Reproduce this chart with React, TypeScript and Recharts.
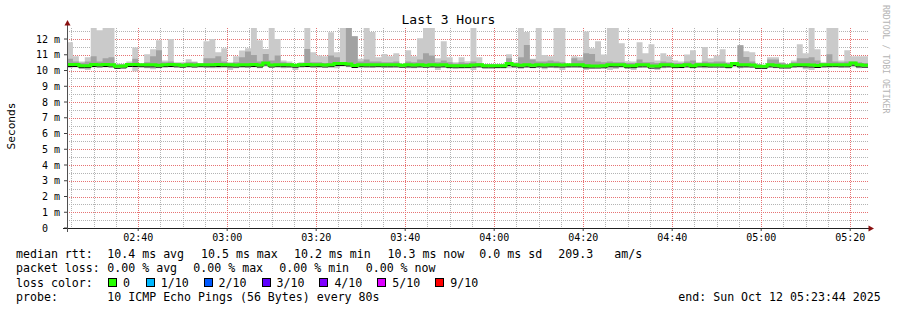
import { ComposedChart, Area, Line, XAxis, YAxis, CartesianGrid } from "recharts"

const MONO = "'DejaVu Sans Mono', monospace"

// one smokeping step = 80 s, first step at 02:24
const stepSeconds = 80
const spanMinutes = 180
const yTop = 12.7

// top of the smoke (slowest ping), ms
const smokeMax = [
  11.79, 10.91, 10.57, 10.84, 12.7, 12.56, 12.7, 12.7, 10.45, 10.42, 10.57, 11.46, 10.45, 11.03, 11.35, 11.92, 10.63, 12.0, 10.53, 10.53, 10.72, 10.57, 10.48, 11.86, 12.0, 11.16, 11.41,
  10.53, 10.91, 11.27, 11.41, 12.7, 11.92, 11.37, 12.7, 12.0, 10.63, 10.57, 10.42, 10.53, 12.7, 11.16, 10.95, 10.91, 12.43, 11.16, 12.7, 12.7, 12.17, 10.74, 12.7, 12.45, 10.84, 11.05,
  10.91, 11.1, 10.42, 11.29, 10.91, 12.05, 12.7, 12.7, 10.78, 11.86, 10.84, 10.53, 10.84, 10.59, 12.7, 10.84, 10.42, 10.42, 10.42, 10.42, 11.03, 10.53, 12.7, 12.45, 10.74, 12.7, 10.99,
  10.91, 12.7, 12.7, 10.36, 10.91, 10.84, 12.47, 11.41, 11.86, 11.01, 12.7, 12.7, 11.73, 10.59, 10.57, 11.79, 11.1, 11.67, 10.63, 11.1, 10.91, 10.63, 10.57, 11.01, 11.29, 10.53, 11.5,
  10.78, 10.95, 11.35, 10.53, 10.53, 11.6, 11.22, 11.16, 10.42, 10.32, 10.84, 10.84, 10.53, 10.42, 10.63, 11.67, 11.1, 12.7, 11.35, 10.53, 12.7, 12.7, 10.63, 11.29, 10.91, 10.91, 10.9,
]

// top of the darker middle smoke, ms
const smokeHi = [
  10.74, 10.57, 10.5, 10.57, 10.91, 10.57, 10.78, 10.84, 10.4, 10.4, 10.48, 10.74, 10.42, 10.53, 10.91, 11.29, 10.53, 10.57, 10.48, 10.46, 10.53, 10.53, 10.44, 10.78, 10.78, 10.91, 10.57,
  10.48, 10.53, 10.84, 11.2, 10.99, 10.57, 11.05, 10.63, 10.95, 10.53, 10.48, 10.42, 10.48, 11.37, 10.53, 10.53, 10.48, 10.95, 10.84, 10.53, 12.7, 12.17, 10.57, 10.7, 10.57, 10.57, 10.53,
  10.53, 10.57, 10.4, 10.57, 10.53, 10.7, 11.1, 10.95, 10.53, 10.63, 10.53, 10.44, 10.53, 10.48, 10.57, 10.48, 10.4, 10.4, 10.4, 10.4, 10.78, 10.48, 10.84, 11.62, 10.7, 10.57, 10.57,
  10.63, 10.57, 10.53, 10.36, 10.78, 10.63, 11.1, 11.05, 10.57, 10.53, 10.57, 10.53, 10.53, 10.48, 10.48, 10.7, 10.53, 10.53, 10.48, 10.57, 10.53, 10.48, 10.48, 10.57, 10.63, 10.48, 10.57,
  10.53, 10.57, 10.57, 10.48, 10.48, 11.6, 10.86, 10.57, 10.4, 10.32, 10.7, 10.7, 10.48, 10.42, 10.53, 10.78, 10.78, 10.84, 10.63, 10.48, 11.03, 10.57, 10.53, 10.57, 10.57, 10.53, 10.48,
]

// bottom of the smoke (fastest ping), ms
const smokeMin = [
  10.17, 10.21, 10.1, 10.04, 10.21, 10.28, 10.21, 10.32, 10.17, 10.21, 10.28, 9.96, 10.21, 10.15, 10.08, 10.15, 10.21, 10.21, 10.28, 10.25, 10.32, 10.25, 10.25, 10.21, 10.15, 10.15, 10.21,
  10.04, 10.15, 10.21, 10.21, 10.21, 10.15, 10.25, 10.21, 10.25, 10.15, 10.21, 10.04, 10.25, 10.21, 10.25, 10.21, 10.25, 10.21, 10.15, 10.25, 10.21, 10.21, 10.21, 10.25, 10.21, 10.25, 10.21,
  10.21, 10.25, 10.25, 10.15, 10.15, 10.21, 10.25, 10.21, 10.04, 10.21, 10.25, 10.21, 10.15, 10.21, 10.04, 10.25, 10.21, 10.25, 10.21, 10.25, 10.15, 10.21, 10.1, 10.21, 10.15, 10.21, 10.08,
  10.21, 10.15, 10.04, 10.21, 10.25, 10.21, 10.04, 10.15, 10.21, 10.25, 10.04, 10.1, 10.25, 10.15, 10.04, 10.21, 10.25, 10.21, 10.04, 10.15, 10.21, 10.25, 10.15, 10.25, 10.21, 10.25, 10.15,
  10.21, 10.25, 10.21, 10.15, 10.21, 10.15, 10.21, 10.25, 10.1, 10.1, 10.21, 10.15, 10.25, 10.21, 10.21, 10.25, 10.08, 10.04, 10.21, 10.25, 10.21, 10.25, 10.21, 10.25, 10.21, 10.15, 10.21,
]

// median rtt, ms
const median = [
  10.38, 10.38, 10.31, 10.31, 10.38, 10.36, 10.38, 10.36, 10.27, 10.29, 10.38, 10.38, 10.37, 10.36, 10.36, 10.34, 10.37, 10.38, 10.36, 10.34, 10.37, 10.35, 10.37, 10.36, 10.37, 10.38, 10.37,
  10.36, 10.35, 10.37, 10.36, 10.38, 10.35, 10.48, 10.35, 10.37, 10.37, 10.36, 10.34, 10.37, 10.38, 10.36, 10.37, 10.35, 10.37, 10.44, 10.45, 10.42, 10.32, 10.37, 10.36, 10.36, 10.37, 10.36,
  10.36, 10.36, 10.34, 10.36, 10.35, 10.36, 10.34, 10.36, 10.35, 10.36, 10.31, 10.3, 10.31, 10.31, 10.35, 10.36, 10.3, 10.3, 10.31, 10.31, 10.44, 10.36, 10.34, 10.36, 10.33, 10.36, 10.35,
  10.36, 10.36, 10.35, 10.36, 10.36, 10.36, 10.3, 10.29, 10.29, 10.3, 10.37, 10.36, 10.37, 10.3, 10.31, 10.36, 10.36, 10.28, 10.29, 10.36, 10.36, 10.31, 10.32, 10.36, 10.31, 10.36, 10.37,
  10.35, 10.35, 10.35, 10.31, 10.44, 10.36, 10.36, 10.35, 10.27, 10.27, 10.36, 10.34, 10.29, 10.29, 10.36, 10.37, 10.36, 10.35, 10.32, 10.36, 10.37, 10.37, 10.36, 10.36, 10.47, 10.36, 10.34,
]

const yTicks = [0, 1, 2, 3, 4, 5, 6, 7, 8, 9, 10, 11, 12]
const yMajorGrid = [1, 2, 3, 4, 5, 6, 7, 8, 9, 10, 11, 12]
const yMinorGrid = [0.5, 1.5, 2.5, 3.5, 4.5, 5.5, 6.5, 7.5, 8.5, 9.5, 10.5, 11.5, 12.5]
const xTicks = [16, 36, 56, 76, 96, 116, 136, 156, 176]
const xTickLabels = ["02:40", "03:00", "03:20", "03:40", "04:00", "04:20", "04:40", "05:00", "05:20"]
const xMinorGrid = [
  1, 6, 11, 21, 26, 31, 41, 46, 51, 61, 66, 71, 81, 86, 91, 101, 106, 111,
  121, 126, 131, 141, 146, 151, 161, 166, 171,
]

const lossColors = [
  { label: "0", color: "#26ff00" },
  { label: "1/10", color: "#00b8ff" },
  { label: "2/10", color: "#0059ff" },
  { label: "3/10", color: "#5e00ff" },
  { label: "4/10", color: "#7e00ff" },
  { label: "5/10", color: "#dd00ff" },
  { label: "9/10", color: "#ff0000" },
]

const rows = smokeMax.map((max, i) => ({
  t: (i * stepSeconds) / 60,
  outer: [smokeMin[i], max],
  inner: [median[i], smokeHi[i]],
  median: median[i],
}))
// close the last step at the right edge
rows.push({ ...rows[rows.length - 1], t: spanMinutes })

// grid line positions through the axis scales
const yGrid = (vals: number[]) => (p: any) =>
  vals.map((v) =>
    typeof p?.yAxis?.scale === "function"
      ? Math.round(p.yAxis.scale(v)) + 0.5
      : Math.round(p.offset.top + p.offset.height * (1 - v / yTop)) + 0.5
  )
const xGrid = (vals: number[]) => (p: any) =>
  vals.map((v) =>
    typeof p?.xAxis?.scale === "function"
      ? Math.round(p.xAxis.scale(v)) + 0.5
      : Math.round(p.offset.left + (p.offset.width * v) / spanMinutes) + 0.5
  )

const YTick = (props: any) => {
  const { y, payload } = props
  const v = payload.value
  const label = v === 0 ? "0  " : `${v} m`
  return (
    <text x={60} y={y} dy={3.6} textAnchor="end" fontSize={10} fontFamily={MONO} fill="#000" style={{ whiteSpace: "pre" }}>
      {label}
    </text>
  )
}

const XTick = (props: any) => {
  const { x, payload } = props
  const idx = xTicks.indexOf(payload.value)
  return (
    <text x={x} y={241} textAnchor="middle" fontSize={10} fontFamily={MONO} fill="#000">
      {xTickLabels[idx]}
    </text>
  )
}

const GRID_GRAY = "#b4b4b4"
const GRID_RED = "#e67373"

const txt = (left: number, top: number): React.CSSProperties => ({
  position: "absolute",
  left,
  top,
  whiteSpace: "pre",
})

const css = `
body{margin:0}
.median-shadow{transform:translateY(2px)}
`

export default function App() {
  return (
    <div style={{ position: "relative", width: 897, height: 310, background: "#fff", fontFamily: MONO, fontSize: 11.6, color: "#000" }}>
      <style>{css}</style>

      <ComposedChart width={897} height={310} data={rows} margin={{ top: 28, right: 29, bottom: 52, left: 0 }}>
        <XAxis
          type="number"
          dataKey="t"
          domain={[0, spanMinutes]}
          ticks={xTicks}
          interval={0}
          tick={<XTick />}
          tickSize={3}
          tickLine={{ stroke: "#404040" }}
          axisLine={false}
          height={30}
          allowDataOverflow
        />
        <YAxis
          type="number"
          domain={[0, yTop]}
          ticks={yTicks}
          interval={0}
          tick={<YTick />}
          tickSize={3}
          tickLine={{ stroke: "#404040" }}
          axisLine={false}
          width={67}
          allowDataOverflow
        />
        <Area dataKey="outer" type="stepAfter" stroke="none" fill="#cacaca" fillOpacity={1} isAnimationActive={false} />
        <Area dataKey="inner" type="stepAfter" stroke="none" fill="#a2a2a2" fillOpacity={1} isAnimationActive={false} />

        <CartesianGrid
          stroke={GRID_GRAY}
          strokeDasharray="1 1"
          horizontalCoordinatesGenerator={yGrid(yMinorGrid)}
          verticalCoordinatesGenerator={xGrid(xMinorGrid)}
        />
        <CartesianGrid
          stroke={GRID_RED}
          strokeDasharray="1 1"
          horizontalCoordinatesGenerator={yGrid(yMajorGrid)}
          verticalCoordinatesGenerator={xGrid(xTicks)}
        />

        <Line className="median-shadow" dataKey="median" type="stepAfter" stroke="#000" strokeWidth={1} dot={false} activeDot={false} isAnimationActive={false} />
        <Line dataKey="median" type="stepAfter" stroke="#26ff00" strokeWidth={3} dot={false} activeDot={false} isAnimationActive={false} />
      </ComposedChart>

      {/* axes, arrows, rotated labels */}
      <svg width={897} height={310} style={{ position: "absolute", left: 0, top: 0, pointerEvents: "none" }}>
        <line x1={63} y1={228.5} x2={869} y2={228.5} stroke="#202020" />
        <line x1={67.5} y1={232} x2={67.5} y2={24} stroke="#505050" />
        <polygon points="64.5,25.5 70.5,25.5 67.5,20" fill="#8a1010" />
        <polygon points="868.5,225.5 868.5,231.5 874,228.5" fill="#8a1010" />
        <text transform="translate(15,126) rotate(-90)" textAnchor="middle" fontSize={11.2} fontFamily={MONO} fill="#000">
          Seconds
        </text>
        <text transform="translate(883,5) rotate(90)" fontSize={8.2} fontFamily={MONO} fill="#b4b4b4">
          RRDTOOL / TOBI OETIKER
        </text>
      </svg>

      <div style={{ position: "absolute", left: 0, width: 897, top: 12, textAlign: "center", fontSize: 13 }}>Last 3 Hours</div>

      <div style={txt(16, 247.2)}>median rtt:</div>
      <div style={txt(107.3, 247.2)}>10.4 ms avg</div>
      <div style={txt(201, 247.2)}>10.5 ms max</div>
      <div style={txt(294, 247.2)}>10.2 ms min</div>
      <div style={txt(387.5, 247.2)}>10.3 ms now</div>
      <div style={txt(479.3, 247.2)}>0.0 ms sd</div>
      <div style={txt(558.3, 247.2)}>209.3</div>
      <div style={txt(614.3, 247.2)}>am/s</div>

      <div style={txt(16, 261.2)}>packet loss:</div>
      <div style={txt(107.3, 261.2)}>0.00 % avg</div>
      <div style={txt(193.3, 261.2)}>0.00 % max</div>
      <div style={txt(279.3, 261.2)}>0.00 % min</div>
      <div style={txt(365.7, 261.2)}>0.00 % now</div>

      <div style={txt(16, 275.5)}>loss color:</div>
      {lossColors.map((c, i) => {
        const left = i === 0 ? 108 : 145.7 + (i - 1) * 57.9
        return (
          <div key={c.label}>
            <div style={{ position: "absolute", left, top: 277.5, width: 9, height: 9, boxSizing: "border-box", border: "1px solid #000", background: c.color }} />
            <div style={txt(left + 15, 275.5)}>{c.label}</div>
          </div>
        )
      })}

      <div style={txt(16, 289.5)}>probe:</div>
      <div style={txt(107.3, 289.5)}>10 ICMP Echo Pings (56 Bytes) every 80s</div>
      <div style={txt(678.3, 289.5)}>end: Sun Oct 12 05:23:44 2025</div>
    </div>
  )
}
